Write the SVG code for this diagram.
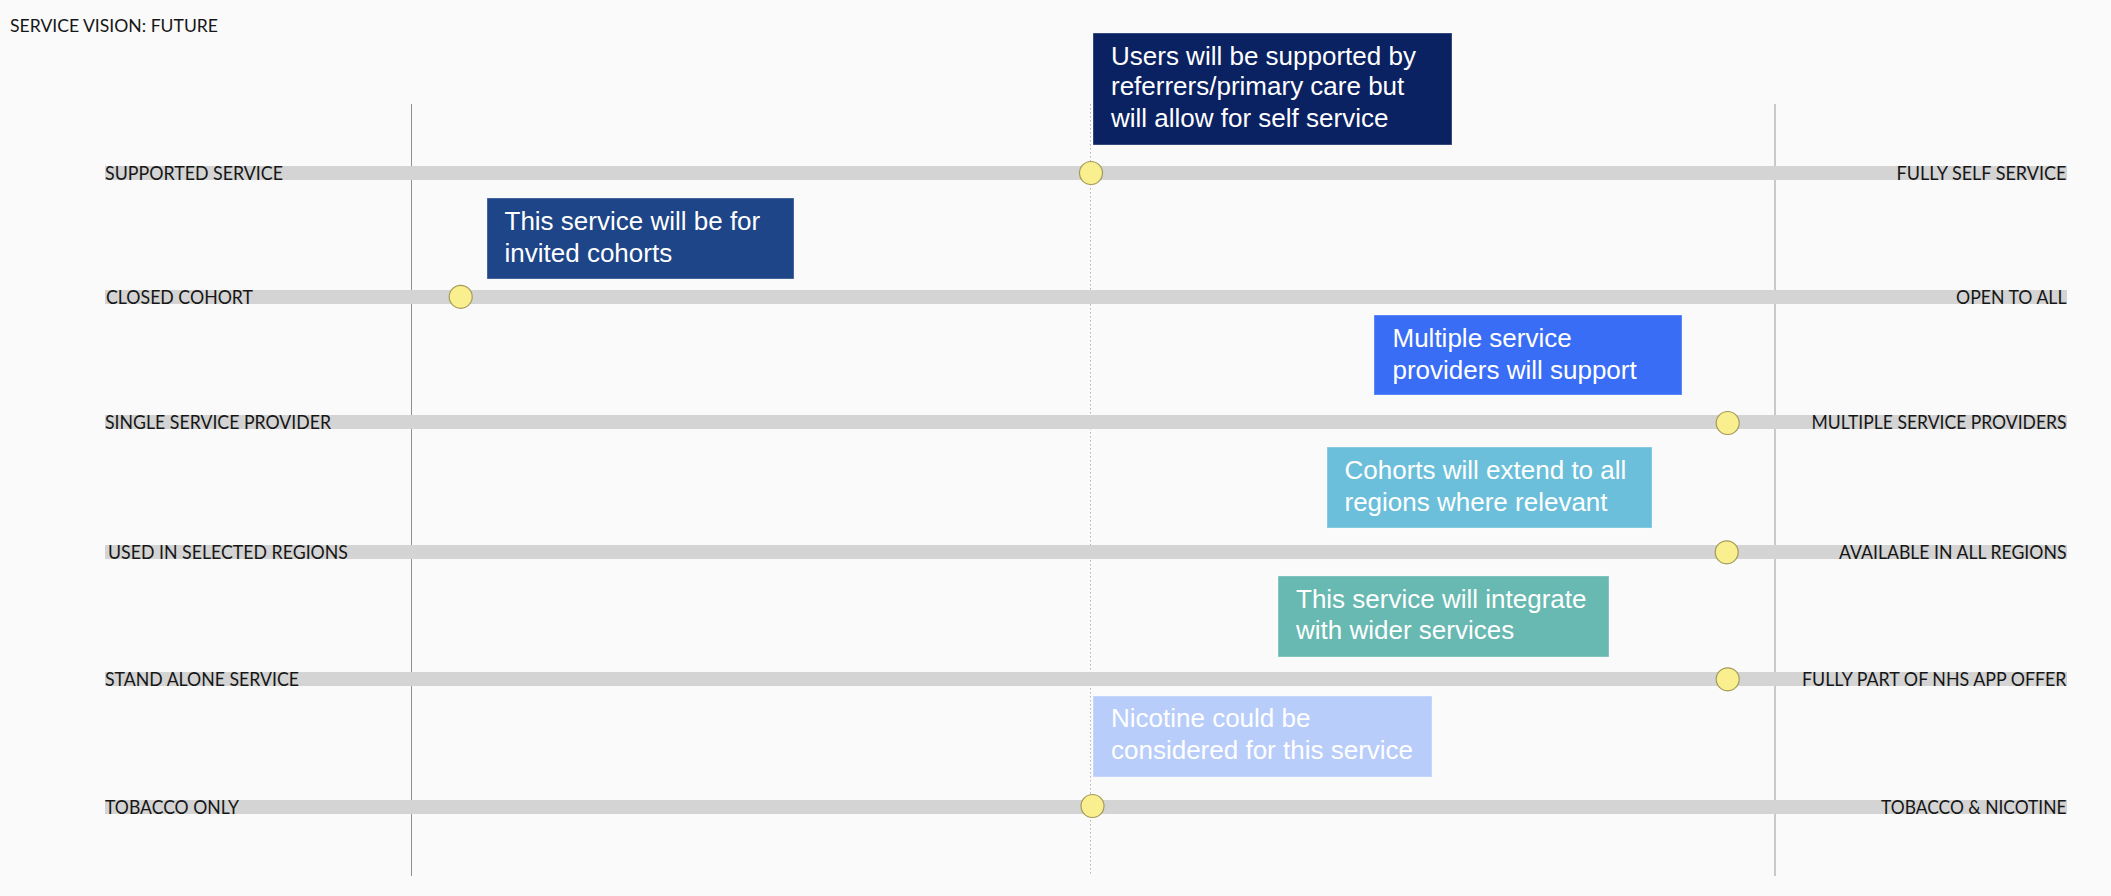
<svg xmlns="http://www.w3.org/2000/svg" width="2111" height="896" viewBox="0 0 2111 896">
<style>
.bg{fill:#FAFAFA}
.bar{fill:#D4D4D4}
.lbl{font-family:Lato,"Liberation Sans",sans-serif;font-size:18.5px;fill:#161616}
.r{text-anchor:end}
.dot{fill:#F9EF8E;stroke:#A39A5C;stroke-width:1.2}
.box{stroke:#ffffff;stroke-opacity:0.35;stroke-width:1}
.bt{font-family:"Liberation Sans",Arial,sans-serif;font-size:26px;fill:#ffffff}
.title{font-family:Lato,"Liberation Sans",sans-serif;font-size:17.5px;fill:#161616}
</style>
<rect class="bg" x="0" y="0" width="2111" height="896"/>
<text class="title" x="10" y="31.5" textLength="208" lengthAdjust="spacingAndGlyphs">SERVICE VISION: FUTURE</text>

<g id="guides">
<line x1="411.5" y1="104" x2="411.5" y2="876" stroke="#8f8f8f" stroke-width="1"/>
<line x1="1775" y1="104" x2="1775" y2="876" stroke="#bdbdbd" stroke-width="1.6"/>
<line x1="1090.5" y1="104" x2="1090.5" y2="876" stroke="#b5b5b5" stroke-width="1" stroke-dasharray="1.5 2.5"/>
</g>

<g id="row1">
<rect class="bar" x="105" y="166" width="1962" height="14"/>
<text class="lbl" x="105" y="180" textLength="178" lengthAdjust="spacingAndGlyphs">SUPPORTED SERVICE</text>
<text class="lbl r" x="2066.5" y="180" textLength="170" lengthAdjust="spacingAndGlyphs">FULLY SELF SERVICE</text>
<circle class="dot" cx="1091" cy="173" r="11.5"/>
</g>
<g id="row2">
<rect class="bar" x="105" y="290" width="1962" height="14"/>
<text class="lbl" x="106" y="303.5" textLength="147" lengthAdjust="spacingAndGlyphs">CLOSED COHORT</text>
<text class="lbl r" x="2066.5" y="303.5" textLength="110.5" lengthAdjust="spacingAndGlyphs">OPEN TO ALL</text>
<circle class="dot" cx="460.7" cy="296.8" r="11.5"/>
</g>
<g id="row3">
<rect class="bar" x="105" y="415" width="1962" height="14"/>
<text class="lbl" x="105" y="428.5" textLength="226" lengthAdjust="spacingAndGlyphs">SINGLE SERVICE PROVIDER</text>
<text class="lbl r" x="2066.5" y="428.5" textLength="255" lengthAdjust="spacingAndGlyphs">MULTIPLE SERVICE PROVIDERS</text>
<circle class="dot" cx="1727.7" cy="423" r="11.5"/>
</g>
<g id="row4">
<rect class="bar" x="105" y="545" width="1962" height="14"/>
<text class="lbl" x="108" y="558.5" textLength="240" lengthAdjust="spacingAndGlyphs">USED IN SELECTED REGIONS</text>
<text class="lbl r" x="2066.5" y="558.5" textLength="227.5" lengthAdjust="spacingAndGlyphs">AVAILABLE IN ALL REGIONS</text>
<circle class="dot" cx="1726.7" cy="552.3" r="11.5"/>
</g>
<g id="row5">
<rect class="bar" x="105" y="672" width="1962" height="14"/>
<text class="lbl" x="105" y="685.5" textLength="194" lengthAdjust="spacingAndGlyphs">STAND ALONE SERVICE</text>
<text class="lbl r" x="2066.5" y="685.5" textLength="264.5" lengthAdjust="spacingAndGlyphs">FULLY PART OF NHS APP OFFER</text>
<circle class="dot" cx="1727.7" cy="679.3" r="11.5"/>
</g>
<g id="row6">
<rect class="bar" x="105" y="800" width="1962" height="14"/>
<text class="lbl" x="105" y="813.5" textLength="134" lengthAdjust="spacingAndGlyphs">TOBACCO ONLY</text>
<text class="lbl r" x="2066.5" y="813.5" textLength="185.5" lengthAdjust="spacingAndGlyphs">TOBACCO &amp; NICOTINE</text>
<circle class="dot" cx="1092.5" cy="806" r="11.5"/>
</g>

<g id="note1">
<rect class="box" x="1093" y="33" width="359" height="112" fill="#0B2262"/>
<text class="bt" x="1111" y="64.5">Users will be supported by</text>
<text class="bt" x="1111" y="95">referrers/primary care but</text>
<text class="bt" x="1111" y="127">will allow for self service</text>
</g>
<g id="note2">
<rect class="box" x="487" y="198" width="307" height="81" fill="#1D4587"/>
<text class="bt" x="504.5" y="230">This service will be for</text>
<text class="bt" x="504.5" y="261.5">invited cohorts</text>
</g>
<g id="note3">
<rect class="box" x="1374" y="315" width="308" height="80" fill="#3A6DF6"/>
<text class="bt" x="1392.5" y="346.5">Multiple service</text>
<text class="bt" x="1392.5" y="379">providers will support</text>
</g>
<g id="note4">
<rect class="box" x="1327" y="447" width="325" height="81" fill="#6CBFDA"/>
<text class="bt" x="1344.5" y="479">Cohorts will extend to all</text>
<text class="bt" x="1344.5" y="510.5">regions where relevant</text>
</g>
<g id="note5">
<rect class="box" x="1278" y="576" width="331" height="81" fill="#68B9B1"/>
<text class="bt" x="1296" y="608">This service will integrate</text>
<text class="bt" x="1296" y="639">with wider services</text>
</g>
<g id="note6">
<rect class="box" x="1093" y="696" width="339" height="81" fill="#B9CDFA"/>
<text class="bt" x="1111" y="726.5">Nicotine could be</text>
<text class="bt" x="1111" y="759">considered for this service</text>
</g>
</svg>
